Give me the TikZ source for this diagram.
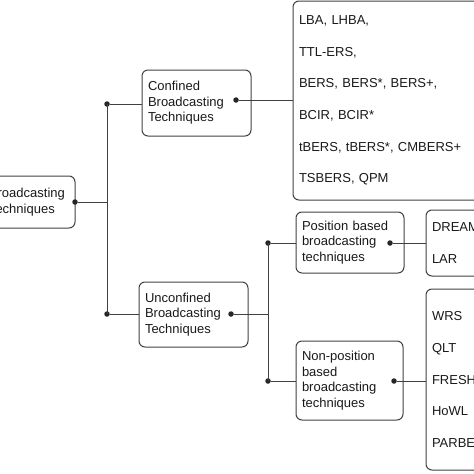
\documentclass[tikz,border=0pt]{standalone}
\usepackage{fontspec}
\setmainfont{Liberation Sans}
\usetikzlibrary{calc}
\tikzset{
  box/.style={draw=black!75, line width=1pt, rounded corners=6pt, inner xsep=6pt, inner ysep=0pt,
    align=left, text=black!90, font=\fontsize{13}{15.5}\selectfont},
  listbox/.style={box, font=\fontsize{13}{31.7}\selectfont},
  dot/.style={circle, fill=black!85, inner sep=0pt, minimum size=5.5pt},
  link/.style={draw=black!75, line width=1pt}
}

\begin{document}
\begin{tikzpicture}[x=1pt, y=-1pt]
		%%%%% START %%%%%
		\useasboundingbox (0,0) rectangle (474,474);
		\clip (0,0) rectangle (474,474);
		
		% boxes
		\node[box, text width=80pt, minimum height=52pt] (root) at (29,202) {Broadcasting\\Techniques};
		\node[box, text width=97pt, minimum height=66pt] (conf) at (196.5,103) {Confined\\Broadcasting\\Techniques};
		\node[box, text width=97pt, minimum height=65pt] (unconf) at (193.5,314.5) {Unconfined\\Broadcasting\\Techniques};
		\node[box, text width=96pt, minimum height=61pt] (pos) at (350,242.5) {Position based\\broadcasting\\techniques};
		\node[box, text width=95pt, minimum height=79pt] (nonpos) at (349.5,380.5) {Non-position\\based\\broadcasting\\techniques};
		
		\node[listbox, text width=218pt, minimum height=199pt] (conflist) at (408,100.5)
			{LBA, LHBA,\\TTL-ERS,\\BERS, BERS*, BERS+,\\BCIR, BCIR*\\tBERS, tBERS*, CMBERS+\\TSBERS, QPM};
		\node[listbox, text width=100pt, minimum height=66pt] (poslist) at (482,243) {DREAM\\LAR};
		\node[listbox, text width=100pt, minimum height=181pt] (nonposlist) at (482,379.5)
			{WRS\\QLT\\FRESH\\HoWL\\PARBE};
		
		% dots
		\node[dot] (rdot) at (75,202) {};
		\node[dot] (cdot) at (236,100) {};
		\node[dot] (udot) at (231,314) {};
		\node[dot] (pdot) at (390,243) {};
		\node[dot] (ndot) at (394,381) {};
		
		\node[dot] (ca) at (107,104) {};
		\node[dot] (cb) at (107,314) {};
		\node[dot] (pa) at (268,243) {};
		\node[dot] (pb) at (268,381) {};
		
		% first level
		\draw[link] (ca.center) -- (cb.center);
		\draw[link] (rdot) -- (rdot -| ca);
		\draw[link] (ca) -- (ca -| conf.west);
		\draw[link] (cb) -- (cb -| unconf.west);
		\draw[link] (cdot) -- (cdot -| conflist.west);
		
		% second level
		\draw[link] (pa.center) -- (pb.center);
		\draw[link] (udot) -- (udot -| pa);
		\draw[link] (pa) -- (pa -| pos.west);
		\draw[link] (pb) -- (pb -| nonpos.west);
		\draw[link] (pdot) -- (pdot -| poslist.west);
		\draw[link] (ndot) -- (ndot -| nonposlist.west);
		
		%%%%% END %%%%%
	\end{tikzpicture}
\end{document}
